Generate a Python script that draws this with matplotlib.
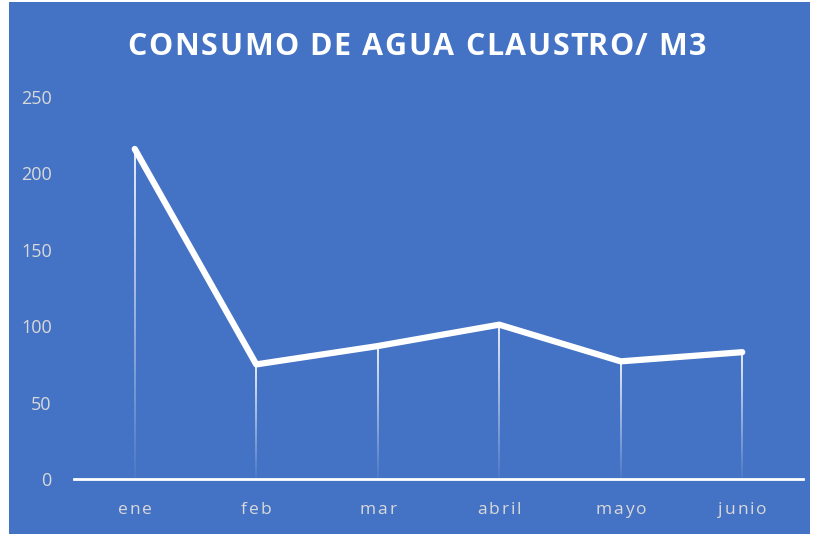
import numpy as np
from matplotlib import pyplot as plt
from matplotlib.collections import LineCollection
from matplotlib.patches import Rectangle
from matplotlib.transforms import IdentityTransform

meses = ["ene", "feb", "mar", "abril", "mayo", "junio"]
consumo = [216, 75, 87, 101, 77, 83]
y_ticks = [0, 50, 100, 150, 200, 250]
titulo = "CONSUMO DE AGUA CLAUSTRO/ M3"

azul = "#4472C4"
gris = "#D9D9D9"

fig = plt.figure(figsize=(8.17, 5.35), dpi=100, facecolor="white")
fig.patches.append(Rectangle((9 / 817, 0.002), 801 / 817, 0.994, transform=fig.transFigure,
                             facecolor=azul, edgecolor="none", zorder=-1))

ax = fig.add_axes([74 / 817, 56 / 535, 729 / 817, 382 / 535])
ax.set_facecolor("none")

x = np.arange(len(meses))

# drop lines fading towards the axis
for xi, yi in zip(x, consumo):
    ys = np.linspace(0, yi, 60)
    segs = [[(xi, ys[i]), (xi, ys[i + 1])] for i in range(len(ys) - 1)]
    alphas = np.linspace(0.05, 0.95, len(segs))
    colors = [(1, 1, 1, a) for a in alphas]
    ax.add_collection(LineCollection(segs, colors=colors, linewidths=1.3, zorder=2))

ax.plot(x, consumo, color="white", linewidth=4.5, solid_capstyle="round",
        solid_joinstyle="round", zorder=3)

ax.set_xlim(-0.5, len(meses) - 0.5)
ax.set_ylim(0, 250)
ax.set_yticks(y_ticks)
ax.set_xticks(x)
ax.set_xticklabels([])

for s in ["top", "right", "left"]:
    ax.spines[s].set_visible(False)
ax.spines["bottom"].set_color("white")
ax.spines["bottom"].set_linewidth(2)

ax.tick_params(axis="both", length=0, colors=gris, labelsize=13)
ax.tick_params(axis="y", pad=16)
for lbl in ax.get_yticklabels():
    lbl.set_fontfamily("Open Sans")

renderer = fig.canvas.get_renderer()


def spaced_text(cx, cy, s, track, **kw):
    # letter-spaced text centred at (cx, cy) in pixels
    widths = []
    for ch in s:
        t1 = fig.text(0, 0, "a" + ch + "a", **kw)
        t2 = fig.text(0, 0, "aa", **kw)
        widths.append(t1.get_window_extent(renderer).width - t2.get_window_extent(renderer).width)
        t1.remove()
        t2.remove()
    total = sum(widths) + track * (len(s) - 1)
    px = cx - total / 2
    for ch, w in zip(s, widths):
        fig.text(px, cy, ch, ha="left", va="center", transform=IdentityTransform(), **kw)
        px += w + track


spaced_text(417, 488, titulo, 1.6, color="white", fontsize=22, fontweight="bold",
            fontfamily="Open Sans")

for xi, m in zip(x, meses):
    px = ax.transData.transform((xi, 0))[0]
    spaced_text(px, 535 - 510, m, 2.0, color=gris, fontsize=12.5, fontfamily="Open Sans")

fig.savefig("out.png", dpi=100, facecolor=fig.get_facecolor())
